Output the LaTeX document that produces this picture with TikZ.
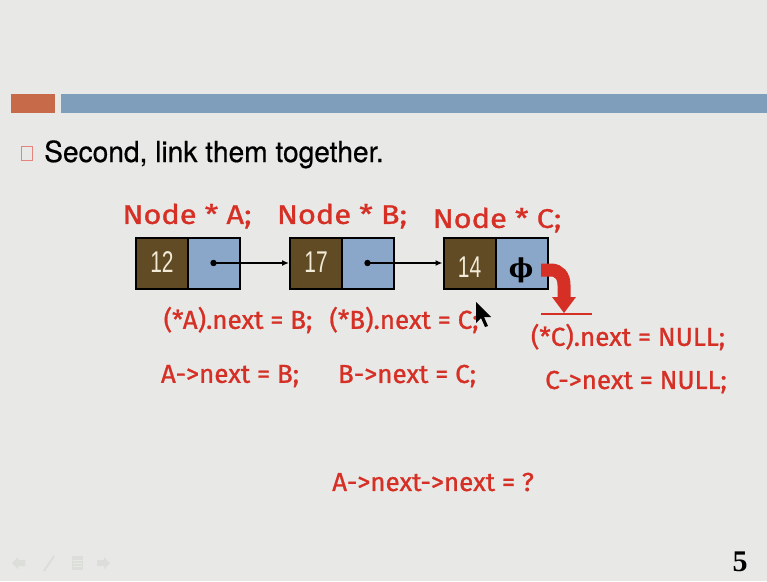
\documentclass[tikz,border=0pt]{standalone}
\usepackage{fontspec}
\setmainfont{Liberation Serif}
\newfontfamily\titlefont[FakeBold=0.6]{TeX Gyre Heros}
\newfontfamily\codefont[FakeBold=1.0]{Fira Sans}
\newfontfamily\digitfont{Liberation Sans}
\newfontfamily\symfont{DejaVu Serif}
\usetikzlibrary{arrows.meta}
\definecolor{bg}{RGB}{232,233,230}
\definecolor{barorange}{RGB}{198,106,74}
\definecolor{barblue}{RGB}{127,158,188}
\definecolor{cellbrown}{RGB}{96,75,36}
\definecolor{cellblue}{RGB}{138,166,200}
\definecolor{codered}{RGB}{214,48,38}
\definecolor{digitcream}{RGB}{240,234,214}
\definecolor{navgray}{RGB}{220,222,218}
\tikzset{
  datacell/.style={rectangle, draw=black, line width=2pt, fill=cellbrown,
    minimum width=52pt, minimum height=51pt, inner sep=0pt},
  ptrcell/.style={datacell, fill=cellblue},
  codetext/.style={text=codered, inner sep=0pt,
    font=\codefont\fontsize{26}{26}\selectfont},
  decltext/.style={codetext, font=\codefont\fontsize{27}{27}\selectfont},
  digits/.style={text=digitcream, inner sep=0pt,
    font=\digitfont\fontsize{30}{30}\selectfont},
  link/.style={line width=1.4pt, -{Latex[length=7pt,width=6pt]}},
}
\newcommand{\widen}[1]{\scalebox{1.14}[1]{#1}}
\begin{document}
\begin{tikzpicture}[x=1pt,y=-1pt]
  % slide background and title bar
  \fill[bg] (0,0) rectangle (767,581);
  \useasboundingbox (0,0) rectangle (767,581);
  \fill[barorange] (11,94) rectangle (55,113);
  \fill[barblue] (61,94) rectangle (767,113);

  % bullet and heading
  \draw[codered!60, line width=1.2pt] (21.5,146.5) rectangle (32.5,160.5);
  \node[anchor=base west, inner sep=0pt, font=\titlefont\fontsize{29}{29}\selectfont]
    (title) at (44,162) {\scalebox{0.97}[1]{Second, link them together.}};

  % pointer declarations
  \node[decltext] (declA) at (187,216) {\widen{Node * A;}};
  \node[decltext] (declB) at (342,216) {\widen{Node * B;}};
  \node[decltext] (declC) at (497,220) {\widen{Node * C;}};

  % the three list nodes
  \node[datacell] (a1) at (162,263) {};
  \node[ptrcell]  (a2) at (213.5,263) {};
  \node[datacell] (b1) at (316,263) {};
  \node[ptrcell]  (b2) at (367.5,263) {};
  \node[datacell] (c1) at (469.5,263) {};
  \node[ptrcell]  (c2) at (521.5,263) {};
  \node[digits] (va) at (162,262) {\scalebox{0.7}[1]{12}};
  \node[digits] (vb) at (316,262) {\scalebox{0.7}[1]{17}};
  \node[digits] (vc) at (469.5,267) {\scalebox{0.7}[1]{14}};
  \node[inner sep=0pt, font=\symfont\bfseries\fontsize{26}{26}\selectfont]
    (phi) at (521,270) {ϕ};

  % next pointers
  \fill (a2.center) circle (3.2);
  \fill (b2.center) circle (3.2);
  \draw[link] (a2.center) -- (b1.west);
  \draw[link] (b2.center) -- (c1.west);

  % NULL pointer: bent arrow down to ground line
  \coordinate (nullstart) at (541,270);
  \coordinate (groundL) at (541,314);
  \coordinate (groundR) at (592,314);
  \draw[codered, line width=13pt] (nullstart) -- (551,270)
    .. controls (559,270) and (564,276) .. (564,285) -- (564,299);
  \fill[codered] (552,297) -- (576,297) -- (564,313) -- cycle;
  \draw[codered, line width=2.5pt] (groundL) -- (groundR);

  % assignments
  \node[codetext] (dotA) at (238,320) {(*A).next = B;};
  \node[codetext] (dotB) at (404,320) {(*B).next = C;};
  \node[codetext] (dotC) at (628,337) {(*C).next = NULL;};
  \node[codetext] (arrA) at (230,376) {A->next = B;};
  \node[codetext] (arrB) at (407,376) {B->next = C;};
  \node[codetext] (arrC) at (636,382) {C->next = NULL;};
  \node[codetext] (quiz) at (433,482) {A->next->next = ?};

  % mouse pointer
  \fill[black] (476,302) -- (476,323) -- (481,318) -- (485,327) -- (488,326)
    -- (484,317) -- (491,317) -- cycle;

  % navigation icons
  \fill[navgray] (12,563) -- (18,557) -- (18,560) -- (25,560) -- (25,566)
    -- (18,566) -- (18,569) -- cycle;
  \draw[navgray, line width=2pt] (44,571) -- (54,556);
  \fill[navgray] (72,556) rectangle (83,570);
  \draw[bg, line width=0.8pt] (73,560) -- (82,560) (73,563) -- (82,563) (73,566) -- (82,566);
  \fill[navgray] (110,563) -- (104,557) -- (104,560) -- (97,560) -- (97,566)
    -- (104,566) -- (104,569) -- cycle;

  % slide number
  \node[inner sep=0pt, font=\bfseries\fontsize{30}{30}\selectfont] (pageno)
    at (740,562) {5};
\end{tikzpicture}
\end{document}
